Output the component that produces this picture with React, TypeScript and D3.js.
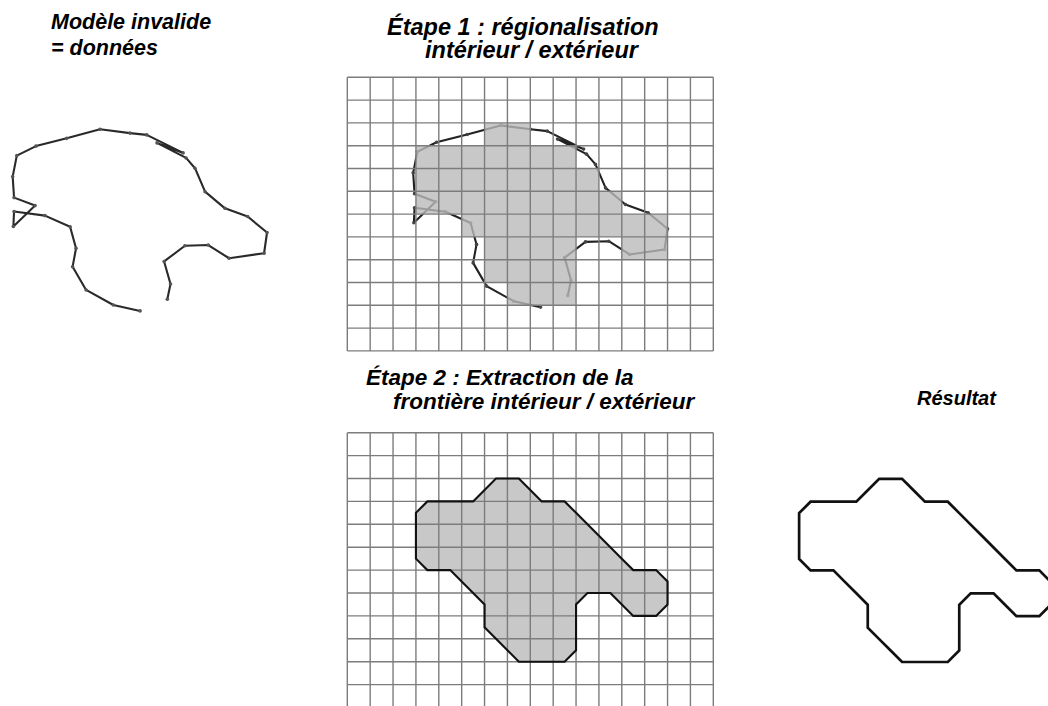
import React from 'react';
import * as d3 from 'd3';

// Grid dimensions (cells)
const GRID_COLS = 16;
const GRID_ROWS = 12;

// Interior / exterior regionalisation mask (one string per grid row, '#' = interior cell)
const maskRows: string[] = [
  '................',
  '................',
  '......##........',
  '...#######......',
  '...########.....',
  '...#########....',
  '.....#########..',
  '......####..##..',
  '......####......',
  '.......###......',
  '................',
  '................',
];

// Invalid model (data) polyline, in grid units (u = column, v = row)
const curveU: number[] = [
  8.45, 7.28, 6.09, 5.5, 5.65, 5.39, 4.29, 2.94, 2.91, 3.86, 2.94, 2.88, 3.06, 3.9,
  5.24, 6.7, 8.01, 8.74, 10.33, 9.19, 10.46, 10.85, 11.29, 12.16, 13.15, 14.0, 13.87,
  12.34, 11.43, 10.41, 9.5, 9.78, 9.64,
];
const curveV: number[] = [
  10.08, 9.82, 9.16, 8.14, 7.33, 6.39, 5.9, 5.72, 6.38, 5.46, 5.11, 4.19, 3.27, 2.85,
  2.51, 2.11, 2.28, 2.36, 3.15, 2.71, 3.37, 3.82, 4.85, 5.58, 5.94, 6.64, 7.55,
  7.77, 7.19, 7.22, 7.91, 8.9, 9.57,
];

const titleLeft: string[] = ['Modèle invalide', '= données'];
const titleStep1: string[] = ['Étape 1 : régionalisation', 'intérieur / extérieur'];
const titleStep2: string[] = ['Étape 2 : Extraction de la', 'frontière intérieur / extérieur'];
const titleResult: string[] = ['Résultat'];

const FONT = "'Liberation Sans', Arial, sans-serif";

export default function App() {
  const W = 1048;
  const H = 706;

  // Scales for each panel
  const xGrid = d3.scaleLinear().domain([0, GRID_COLS]).range([347.3, 713.3]);
  const yTop = d3.scaleLinear().domain([0, GRID_ROWS]).range([77.3, 350.9]);
  const yBot = d3.scaleLinear().domain([0, GRID_ROWS]).range([432.7, 707.5]);
  const xLeft = d3.scaleLinear().domain([0, GRID_COLS]).range([347.3 - 400.5, 713.3 - 400.5]);
  const yLeft = d3.scaleLinear().domain([0, GRID_ROWS]).range([77.3 + 3.8, 350.9 + 3.8]);
  const xRes = d3.scaleLinear().domain([0, GRID_COLS]).range([730.5, 730.5 + 366]);
  const yRes = d3.scaleLinear().domain([0, GRID_ROWS]).range([433, 707.8]);

  const values: number[] = [];
  maskRows.forEach((r) => r.split('').forEach((c) => values.push(c === '#' ? 1 : 0)));
  const contour = d3.contours().size([GRID_COLS, GRID_ROWS]).thresholds([0.5])(values)[0];

  const pathFor = (xs: any, ys: any) =>
    d3.geoPath(
      d3.geoTransform({
        point: function (this: any, x: number, y: number) {
          this.stream.point(xs(x), ys(y));
        },
      })
    );

  const pts = curveU.map((u, i) => [u, curveV[i]] as [number, number]);
  const lineFor = (xs: any, ys: any) =>
    d3
      .line<[number, number]>()
      .x((d) => xs(d[0]))
      .y((d) => ys(d[1]))(pts) as string;

  const cells: { c: number; r: number }[] = [];
  maskRows.forEach((row, r) =>
    row.split('').forEach((ch, c) => {
      if (ch === '#') cells.push({ c, r });
    })
  );

  const gridLines = (ys: any, key: string) => (
    <g key={key} stroke="#7c7c7c" strokeWidth={1.4} fill="none">
      {d3.range(GRID_COLS + 1).map((i) => (
        <line key={'v' + i} x1={xGrid(i)} x2={xGrid(i)} y1={ys(0)} y2={ys(GRID_ROWS)} />
      ))}
      {d3.range(GRID_ROWS + 1).map((j) => (
        <line key={'h' + j} x1={xGrid(0)} x2={xGrid(GRID_COLS)} y1={ys(j)} y2={ys(j)} />
      ))}
    </g>
  );

  const curve = (xs: any, ys: any, color: string, dot: string) => (
    <g>
      <path d={lineFor(xs, ys)} fill="none" stroke={color} strokeWidth={2.1} strokeLinejoin="round" />
      {pts.map((p, i) => (
        <circle key={i} cx={xs(p[0])} cy={ys(p[1])} r={1.8} fill={dot} />
      ))}
    </g>
  );

  const textStyle = {
    fontFamily: FONT,
    fontWeight: 700,
    fontStyle: 'italic' as const,
    fill: '#000',
  };

  return (
    <svg
      width={W}
      height={H}
      viewBox={`0 0 ${W} ${H}`}
      style={{ position: 'absolute', left: 0, top: 0, background: '#fff' }}
    >
      <rect x={0} y={0} width={W} height={H} fill="#fff" />

      {/* Left: invalid model */}
      <text {...textStyle} fontSize={21.5} x={51} y={28.5}>{titleLeft[0]}</text>
      <text {...textStyle} fontSize={21.5} x={51} y={55}>{titleLeft[1]}</text>
      {curve(xLeft, yLeft, '#2a2a2a', '#555')}

      {/* Step 1 */}
      <text {...textStyle} fontSize={23.5} x={387} y={34.5}>{titleStep1[0]}</text>
      <text {...textStyle} fontSize={23.5} x={425} y={57.5}>{titleStep1[1]}</text>
      {curve(xGrid, yTop, '#222', '#444')}
      <g fill="#bababa" fillOpacity={0.8}>
        {cells.map((d, i) => (
          <rect
            key={i}
            x={xGrid(d.c)}
            y={yTop(d.r)}
            width={xGrid(d.c + 1) - xGrid(d.c)}
            height={yTop(d.r + 1) - yTop(d.r)}
          />
        ))}
      </g>
      {gridLines(yTop, 'gt')}

      {/* Step 2 */}
      <text {...textStyle} fontSize={22.5} x={366} y={385}>{titleStep2[0]}</text>
      <text {...textStyle} fontSize={22.5} x={393} y={408.5}>{titleStep2[1]}</text>
      <path d={pathFor(xGrid, yBot)(contour as any) as string} fill="#c8c8c8" stroke="none" />
      {gridLines(yBot, 'gb')}
      <path
        d={pathFor(xGrid, yBot)(contour as any) as string}
        fill="none"
        stroke="#111"
        strokeWidth={2.1}
        strokeLinejoin="miter"
      />

      {/* Result */}
      <text {...textStyle} fontSize={20} x={917} y={405}>{titleResult[0]}</text>
      <path
        d={pathFor(xRes, yRes)(contour as any) as string}
        fill="none"
        stroke="#111"
        strokeWidth={2.7}
      />
    </svg>
  );
}
